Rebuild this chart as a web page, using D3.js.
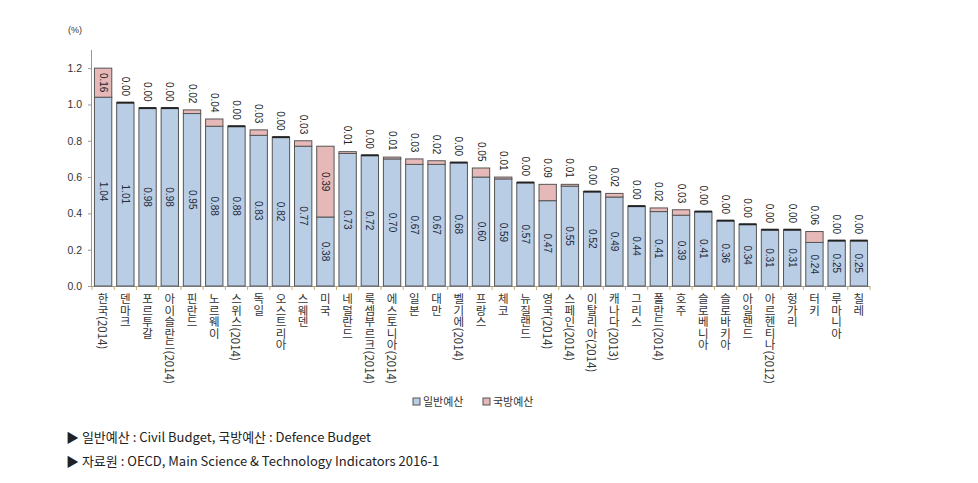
<!DOCTYPE html>
<html><head><meta charset="utf-8">
<script src="https://cdn.jsdelivr.net/npm/d3@7/dist/d3.min.js"></script>
<style>
body{margin:0;background:#fff;}
svg{display:block;}
.cat{writing-mode:vertical-rl;text-orientation:mixed;}
</style></head>
<body>
<svg id="chart" width="978" height="483"></svg>
<script>
const categories = ["한국(2014)","덴마크","포르투갈","아이슬란드(2014)","핀란드","노르웨이","스위스(2014)","독일","오스트리아","스웨덴","미국","네덜란드","룩셈부르크(2014)","에스토니아(2014)","일본","대만","벨기에(2014)","프랑스","체코","뉴질랜드","영국(2014)","스페인(2014)","이탈리아(2014)","캐나다(2013)","그리스","폴란드(2014)","호주","슬로베니아","슬로바키아","아일랜드","아르헨티나(2012)","헝가리","터키","루마니아","칠레"];
const civil = [1.04,1.01,0.98,0.98,0.95,0.88,0.88,0.83,0.82,0.77,0.38,0.73,0.72,0.70,0.67,0.67,0.68,0.60,0.59,0.57,0.47,0.55,0.52,0.49,0.44,0.41,0.39,0.41,0.36,0.34,0.31,0.31,0.24,0.25,0.25];
const defence = [0.16,0.00,0.00,0.00,0.02,0.04,0.00,0.03,0.00,0.03,0.39,0.01,0.00,0.01,0.03,0.02,0.00,0.05,0.01,0.00,0.09,0.01,0.00,0.02,0.00,0.02,0.03,0.00,0.00,0.00,0.00,0.00,0.06,0.00,0.00];
const yTicks = [0,0.2,0.4,0.6,0.8,1.0,1.2];
const seriesNames = ["일반예산","국방예산"];
const notes = ["▶ 일반예산 : Civil Budget, 국방예산 : Defence Budget","▶ 자료원 : OECD, Main Science & Technology Indicators 2016-1"];

const svg = d3.select("#chart");
const colors = ["#b9cde5","#e6b9b8"];
const y = d3.scaleLinear().domain([0,1.3]).range([286,50]);
const x = d3.scaleBand().domain(categories).range([92,870]).paddingInner(0.22).paddingOuter(0.11);
const fontK = "'Noto Sans CJK KR', 'Noto Sans', sans-serif";
const fontL = "'Liberation Sans', Arial, sans-serif";

// y axis
const yAxis = svg.append("g").attr("transform","translate(92,0)")
  .call(d3.axisLeft(y).tickValues(yTicks).tickFormat(d3.format(".1f")).tickSize(4).tickPadding(6));
yAxis.select(".domain").attr("stroke","#999").attr("d","M-0.5,50V286");
yAxis.selectAll(".tick line").attr("stroke","#999");
yAxis.selectAll(".tick text").attr("fill","#333").attr("font-size",10.5).attr("font-family",fontL);
svg.append("text").attr("x",75).attr("y",33).attr("text-anchor","middle").attr("font-size",9).attr("fill","#333")
  .attr("font-family",fontL).text("(%)");

// x axis
const xAxis = svg.append("g").attr("transform","translate(0,286)");
xAxis.append("line").attr("x1",92).attr("x2",870).attr("y1",0.5).attr("y2",0.5).attr("stroke","#999");
const edges = categories.map((c,i)=> x(c) - x.step()*x.paddingInner()/2).concat([870]);
xAxis.selectAll("line.t").data(edges).join("line").attr("class","t")
  .attr("x1",d=>d).attr("x2",d=>d).attr("y1",0).attr("y2",4).attr("stroke","#c8b070");

// bars
const g = svg.append("g");
categories.forEach((c,i)=>{
  const bx = x(c), bw = x.bandwidth();
  const y0 = y(0), y1 = y(civil[i]), y2 = y(civil[i]+defence[i]);
  g.append("rect").attr("x",bx).attr("y",y1).attr("width",bw).attr("height",y0-y1)
    .attr("fill",colors[0]).attr("stroke","#555").attr("stroke-width",1);
  if (y1-y2 >= 1) {
    g.append("rect").attr("x",bx).attr("y",y2).attr("width",bw).attr("height",y1-y2)
      .attr("fill",colors[1]).attr("stroke","#555").attr("stroke-width",1);
  } else {
    g.append("line").attr("x1",bx).attr("x2",bx+bw).attr("y1",y2).attr("y2",y2)
      .attr("stroke","#222").attr("stroke-width",2);
  }
  const cx = bx + bw/2;
  g.append("text").attr("transform",`translate(${cx},${(y0+y1)/2}) rotate(90)`)
    .attr("text-anchor","middle").attr("dy","0.35em").attr("font-size",10).attr("fill","#1f2a3a")
    .attr("font-family",fontL).text(civil[i].toFixed(2));
  const segH = y1-y2;
  let ly, anchor;
  if (segH > 24) { ly = (y1+y2)/2; anchor = "middle"; }
  else { ly = y2 - 26; anchor = "start"; }
  g.append("text").attr("transform",`translate(${cx},${ly}) rotate(90)`)
    .attr("text-anchor",anchor).attr("dy","0.35em").attr("font-size",10).attr("fill","#222")
    .attr("font-family",fontL).text(defence[i].toFixed(2));
});

// category labels
svg.append("g").selectAll("text").data(categories).join("text").attr("class","cat")
  .attr("x",d=>x(d)+x.bandwidth()/2).attr("y",293)
  .attr("font-size",11.5).attr("fill","#333").attr("font-family",fontK).text(d=>d);

// legend
const leg = svg.append("g");
const legX = [413,483];
seriesNames.forEach((n,i)=>{
  leg.append("rect").attr("x",legX[i]).attr("y",398).attr("width",7).attr("height",7)
    .attr("fill",colors[i]).attr("stroke","#555");
  leg.append("text").attr("x",legX[i]+10).attr("y",406).attr("font-size",11).attr("fill","#333")
    .attr("font-family",fontK).text(n);
});

// notes
svg.append("g").selectAll("text").data(notes).join("text")
  .attr("x",66).attr("y",(d,i)=>442+i*24).attr("font-size",13).attr("fill","#222")
  .attr("font-family",fontK).text(d=>d);
</script>
</body></html>
